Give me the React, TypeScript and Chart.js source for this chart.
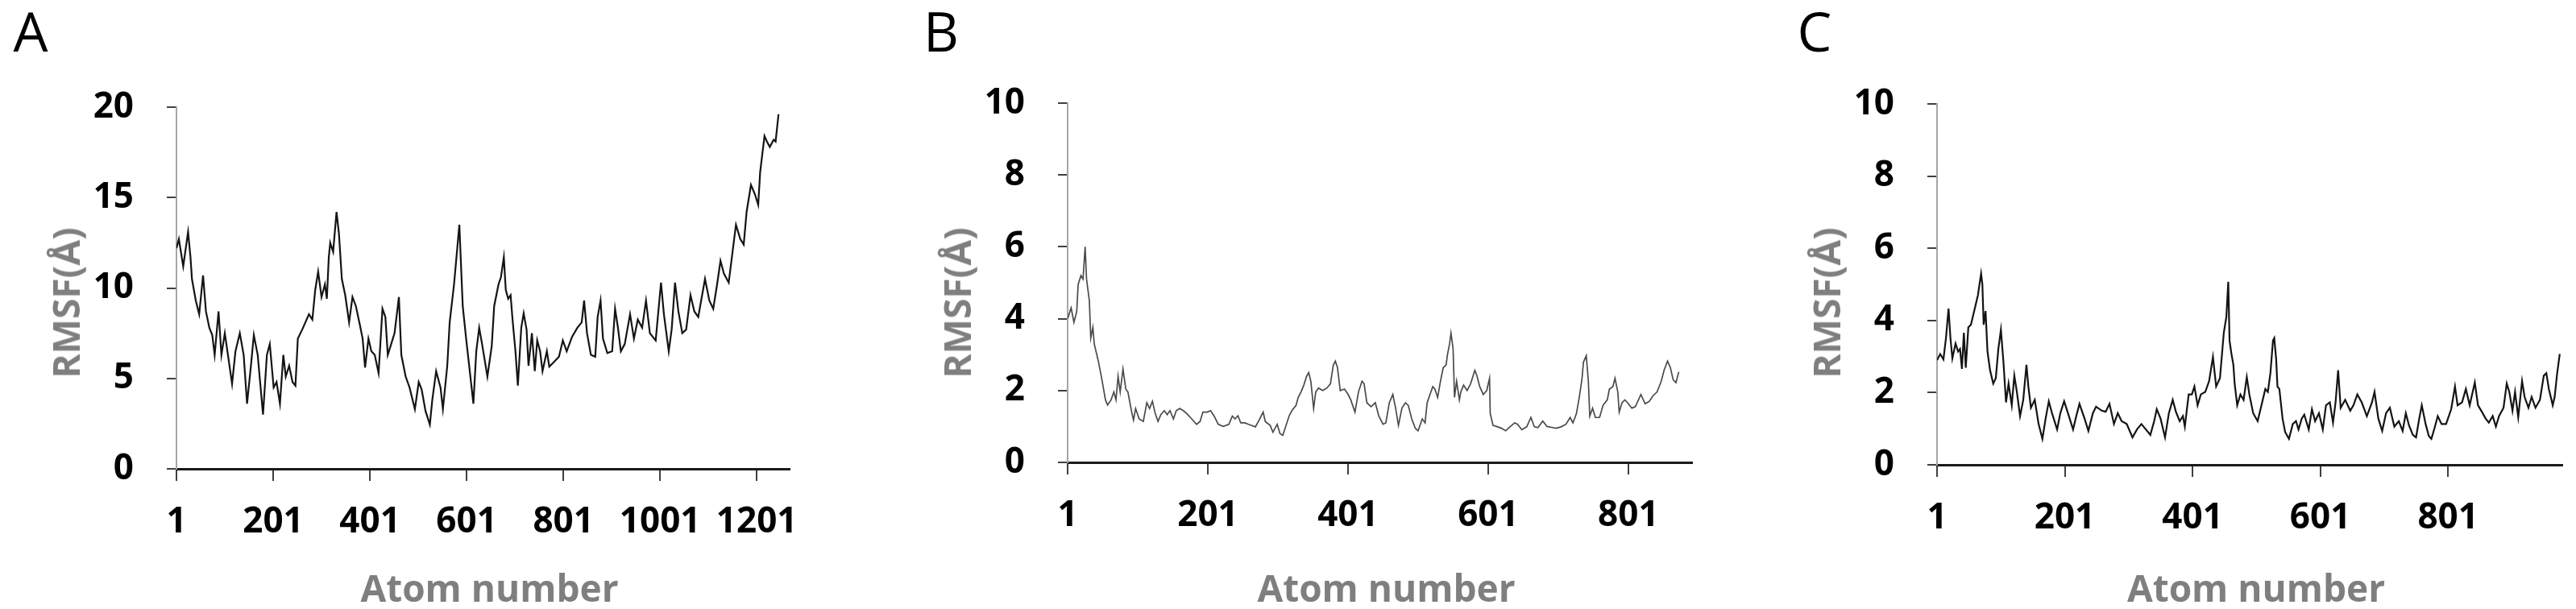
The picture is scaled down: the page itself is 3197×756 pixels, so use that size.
import React, { useEffect, useRef } from "react";
import { Chart, registerables } from "chart.js";

Chart.register(...registerables);

// ---------- data ----------
const ATOMS_A = [
  1, 6, 15, 25, 30, 33, 41, 48, 56, 62, 69, 75, 80, 88, 94, 101, 108, 116, 123, 132,
  140, 147, 155, 161, 169, 180, 188, 194, 202, 208, 215, 222, 227, 234, 241, 247, 252, 261, 266, 275,
  282, 288, 294, 301, 308, 312, 316, 319, 325, 332, 337, 343, 350, 358, 365, 372, 380, 386, 391, 398,
  404, 411, 419, 427, 433, 438, 445, 452, 461, 466, 475, 483, 494, 502, 508, 516, 525, 530, 538, 547,
  552, 561, 566, 575, 580, 586, 590, 593, 600, 608, 615, 621, 627, 633, 644, 653, 658, 667, 672, 678,
  682, 687, 692, 696, 702, 707, 714, 719, 725, 729, 736, 742, 747, 753, 758, 767, 772, 783, 792, 800,
  808, 819, 830, 839, 844, 850, 858, 867, 872, 878, 883, 892, 902, 908, 914, 920, 928, 939, 947, 955,
  964, 972, 980, 992, 1003, 1009, 1019, 1025, 1032, 1039, 1047, 1055, 1064, 1072, 1080, 1086, 1094, 1103, 1111, 1119,
  1126, 1133, 1143, 1150, 1158, 1167, 1174, 1180, 1189, 1197, 1204, 1208, 1217, 1222, 1228, 1236, 1240, 1246,
];
const RMSF_A = [
  12.2, 12.7, 11.2, 13.1, 11.7, 10.5, 9.3, 8.55, 10.7, 8.7, 7.8, 7.4, 6.3, 8.7, 6.3, 7.5, 6.2, 4.7, 6.5, 7.5,
  6.3, 3.6, 5.7, 7.4, 6.3, 3.0, 6.3, 6.9, 4.5, 4.8, 3.6, 6.3, 5.1, 5.7, 4.8, 4.6, 7.2, 7.7, 8.0, 8.55,
  8.25, 9.9, 10.9, 9.5, 10.2, 9.4, 11.7, 12.5, 12.0, 14.2, 13.0, 10.5, 9.6, 8.1, 9.5, 9.0, 8.0, 7.2, 5.6, 7.2,
  6.5, 6.3, 5.3, 8.85, 8.4, 6.3, 6.9, 7.5, 9.5, 6.3, 5.1, 4.5, 3.3, 4.8, 4.4, 3.2, 2.45, 3.8, 5.4, 4.5,
  3.3, 5.7, 8.1, 10.2, 11.7, 13.5, 10.9, 9.0, 7.2, 5.3, 3.6, 6.5, 7.8, 6.9, 5.1, 6.8, 9.0, 10.2, 10.6, 11.7,
  9.9, 9.4, 9.6, 8.25, 6.5, 4.6, 7.8, 8.6, 7.7, 5.7, 7.5, 5.4, 7.1, 6.5, 5.4, 6.5, 5.65, 5.95, 6.2, 7.1,
  6.5, 7.3, 7.8, 8.1, 9.3, 7.5, 6.3, 6.2, 8.4, 9.3, 7.2, 6.4, 6.5, 8.85, 7.8, 6.5, 6.9, 8.55, 7.2, 8.25,
  7.8, 9.3, 7.5, 7.1, 10.3, 8.55, 6.5, 7.7, 10.3, 8.7, 7.5, 7.7, 9.6, 8.7, 8.4, 9.3, 10.5, 9.3, 8.85, 10.2,
  11.5, 10.8, 10.3, 11.8, 13.5, 12.7, 12.4, 14.2, 15.7, 15.2, 14.6, 16.4, 18.4, 18.1, 17.8, 18.2, 18.1, 19.6,
];

const ATOMS_B = [
  1, 6, 10, 14, 16, 20, 23, 26, 28, 32, 34, 37, 39, 45, 49, 55, 58, 63, 67, 70,
  73, 76, 80, 84, 87, 92, 95, 98, 103, 109, 114, 118, 122, 126, 130, 134, 139, 143, 147, 152,
  156, 161, 166, 171, 178, 185, 190, 194, 200, 205, 210, 216, 223, 231, 236, 240, 244, 248, 254, 259,
  263, 269, 275, 280, 283, 290, 294, 300, 304, 308, 312, 317, 321, 327, 330, 334, 338, 342, 345, 348,
  352, 355, 359, 365, 371, 376, 380, 383, 386, 390, 396, 401, 405, 411, 416, 421, 424, 428, 434, 440,
  445, 451, 455, 460, 465, 469, 473, 478, 483, 487, 492, 497, 501, 507, 511, 514, 518, 522, 525, 529,
  533, 537, 541, 543, 546, 548, 551, 553, 556, 560, 562, 566, 571, 576, 582, 585, 589, 594, 599, 603,
  604, 608, 613, 620, 626, 632, 639, 643, 649, 656, 662, 667, 672, 679, 685, 693, 698, 705, 712, 718,
  722, 727, 731, 735, 737, 741, 744, 746, 750, 754, 760, 765, 771, 774, 779, 782, 786, 788, 792, 796,
  800, 806, 811, 819, 825, 831, 836, 842, 848, 852, 857, 861, 865, 869, 873,
];
const RMSF_B = [
  4.0, 4.3, 3.9, 4.2, 4.95, 5.2, 5.1, 6.0, 5.1, 4.5, 3.46, 3.76, 3.3, 2.8, 2.4, 1.74, 1.6, 1.74, 1.96, 1.74,
  2.4, 1.96, 2.6, 2.04, 1.96, 1.44, 1.18, 1.5, 1.21, 1.14, 1.66, 1.5, 1.7, 1.36, 1.14, 1.33, 1.44, 1.33, 1.44, 1.21,
  1.44, 1.5, 1.44, 1.36, 1.21, 1.06, 1.14, 1.4, 1.4, 1.44, 1.29, 1.06, 1.0, 1.06, 1.29, 1.21, 1.3, 1.1, 1.1, 1.06,
  1.03, 0.99, 1.21, 1.4, 1.14, 1.03, 0.84, 1.06, 0.8, 0.75, 0.99, 1.29, 1.44, 1.59, 1.81, 1.96, 2.15, 2.4, 2.5, 2.26,
  1.5, 1.96, 2.07, 2.0, 2.07, 2.19, 2.7, 2.82, 2.64, 2.0, 2.04, 1.9, 1.74, 1.4, 1.96, 2.26, 2.19, 1.66, 1.55, 1.66,
  1.29, 1.06, 1.1, 1.66, 1.89, 1.51, 1.03, 1.51, 1.66, 1.59, 1.21, 0.95, 0.88, 1.21, 1.1, 1.66, 1.89, 2.11, 2.04, 1.81,
  2.26, 2.64, 2.71, 3.0, 3.3, 3.6, 3.16, 1.81, 2.26, 1.74, 1.96, 2.15, 2.0, 2.19, 2.56, 2.41, 2.11, 1.89, 2.0, 2.34,
  1.36, 1.03, 1.0, 0.95, 0.88, 0.99, 1.1, 1.06, 0.91, 0.99, 1.25, 0.99, 0.97, 1.15, 1.0, 0.97, 0.95, 0.99, 1.06, 1.25,
  1.1, 1.36, 1.81, 2.34, 2.79, 2.97, 2.26, 1.29, 1.51, 1.25, 1.25, 1.59, 1.74, 2.04, 2.11, 2.34, 1.96, 1.4, 1.66, 1.74,
  1.66, 1.51, 1.55, 1.89, 1.63, 1.7, 1.85, 1.96, 2.26, 2.56, 2.82, 2.64, 2.3, 2.22, 2.52,
];

const ATOMS_C = [
  1, 6, 11, 15, 19, 22, 25, 30, 34, 37, 40, 43, 46, 50, 54, 57, 61, 65, 70, 72,
  74, 77, 80, 84, 89, 93, 97, 101, 105, 109, 113, 118, 122, 126, 131, 136, 141, 144, 148, 154,
  160, 166, 171, 176, 181, 189, 194, 200, 206, 214, 219, 224, 232, 238, 245, 250, 259, 265, 271, 278,
  284, 290, 298, 307, 314, 321, 328, 335, 341, 345, 351, 358, 364, 370, 375, 381, 386, 389, 395, 400,
  404, 409, 414, 421, 427, 433, 438, 444, 450, 454, 457, 459, 462, 465, 467, 471, 476, 481, 486, 490,
  496, 503, 509, 515, 519, 523, 527, 529, 532, 534, 537, 542, 546, 552, 558, 563, 567, 572, 576, 583,
  588, 593, 599, 605, 610, 616, 621, 625, 629, 633, 640, 648, 653, 659, 666, 674, 682, 686, 692, 698,
  704, 710, 717, 724, 730, 735, 740, 746, 751, 756, 760, 766, 771, 775, 780, 785, 791, 798, 806, 812,
  816, 823, 829, 835, 843, 848, 854, 860, 865, 871, 876, 881, 888, 893, 897, 902, 906, 911, 917, 921,
  927, 932, 938, 945, 951, 955, 959, 965, 968, 972, 976,
];
const RMSF_C = [
  2.9, 3.07, 2.92, 3.51, 4.33, 3.51, 2.95, 3.36, 3.14, 3.21, 2.66, 3.66, 2.69, 3.81, 3.88, 4.1, 4.4, 4.7, 5.3, 5.0,
  3.88, 4.26, 3.14, 2.62, 2.25, 2.4, 3.21, 3.74, 2.84, 1.73, 2.25, 1.65, 2.47, 2.02, 1.35, 1.8, 2.77, 2.17, 1.58, 1.8,
  1.13, 0.72, 1.28, 1.76, 1.43, 0.98, 1.43, 1.76, 1.43, 0.98, 1.35, 1.69, 1.28, 0.94, 1.43, 1.61, 1.5, 1.47, 1.69, 1.13,
  1.43, 1.21, 1.13, 0.76, 0.98, 1.13, 0.98, 0.83, 1.21, 1.54, 1.28, 0.76, 1.43, 1.8, 1.47, 1.21, 1.35, 1.06, 1.95, 1.95,
  2.17, 1.65, 1.95, 2.02, 2.32, 2.99, 2.17, 2.4, 3.66, 4.1, 5.07, 3.44, 3.07, 2.77, 2.25, 1.65, 1.95, 1.8, 2.43, 1.95,
  1.43, 1.21, 1.65, 2.1, 2.02, 2.54, 3.44, 3.51, 2.92, 2.17, 2.1, 1.28, 0.91, 0.72, 1.13, 1.21, 0.98, 1.28, 1.39, 0.98,
  1.54, 1.21, 1.43, 0.98, 1.65, 1.73, 1.17, 1.73, 2.62, 1.58, 1.8, 1.5, 1.65, 1.95, 1.73, 1.35, 1.73, 2.02, 1.28, 0.94,
  1.43, 1.58, 1.06, 1.21, 0.94, 1.43, 1.09, 0.83, 0.76, 1.28, 1.65, 1.13, 0.8, 0.72, 1.02, 1.35, 1.13, 1.13, 1.54, 2.17,
  1.65, 1.73, 2.1, 1.65, 2.28, 1.65, 1.47, 1.28, 1.17, 1.35, 1.06, 1.35, 1.58, 2.25, 2.02, 1.5, 2.02, 1.32, 2.32, 1.88,
  1.58, 1.88, 1.58, 1.8, 2.47, 2.54, 2.1, 1.65, 1.88, 2.54, 3.07,
];

const X_TICKS_A = [1, 201, 401, 601, 801, 1001, 1201];
const X_TICKS_BC = [1, 201, 401, 601, 801];
const Y_TICKS_A = [0, 5, 10, 15, 20];
const Y_TICKS_BC = [0, 2, 4, 6, 8, 10];
const X_MAX = [1269, 892, 980];
const Y_MAX = [20, 10, 10];
const PANEL_LABELS = ["A", "B", "C"];
const X_TITLE = "Atom number";
const Y_TITLE = "RMSF(Å)";

// ---------- layout / style ----------
const FONT = "'Open Sans', 'Noto Sans', sans-serif";
const PAGE_H = 756;
const TICK_FONT_SIZE = 44;
const TITLE_FONT_SIZE = 46;

type PanelGeom = {
  canvasLeft: number;
  canvasWidth: number;
  axisX: number; // page x of y axis
  plotTop: number;
  plotBottom: number;
  plotRight: number;
  lineColor: string;
  lineWidth: number;
  labelX: number;
};

const GEOMS: PanelGeom[] = [
  { canvasLeft: 0, canvasWidth: 1040, axisX: 219, plotTop: 133, plotBottom: 582, plotRight: 980, lineColor: "#141414", lineWidth: 2.2, labelX: 38 },
  { canvasLeft: 1040, canvasWidth: 1080, axisX: 1325, plotTop: 128, plotBottom: 574, plotRight: 2100, lineColor: "#4a4a4a", lineWidth: 1.7, labelX: 1168 },
  { canvasLeft: 2120, canvasWidth: 1077, axisX: 2404, plotTop: 129, plotBottom: 577, plotRight: 3180, lineColor: "#141414", lineWidth: 2.2, labelX: 2252 },
];

const SERIES = [
  { atoms: ATOMS_A, values: RMSF_A, xTicks: X_TICKS_A, yTicks: Y_TICKS_A },
  { atoms: ATOMS_B, values: RMSF_B, xTicks: X_TICKS_BC, yTicks: Y_TICKS_BC },
  { atoms: ATOMS_C, values: RMSF_C, xTicks: X_TICKS_BC, yTicks: Y_TICKS_BC },
];

function Panel({ idx }: { idx: number }) {
  const ref = useRef<HTMLCanvasElement | null>(null);
  const g = GEOMS[idx];
  const s = SERIES[idx];

  useEffect(() => {
    let chart: Chart | null = null;
    let cancelled = false;
    const make = () => {
      if (cancelled || !ref.current) return;
      const yW = g.axisX - g.canvasLeft;
      const xH = PAGE_H - g.plotBottom;
      const padRight = g.canvasLeft + g.canvasWidth - g.plotRight;
      chart = new Chart(ref.current, {
        type: "line",
        data: {
          datasets: [
            {
              data: s.atoms.map((a, i) => ({ x: a, y: s.values[i] })),
              borderColor: g.lineColor,
              borderWidth: g.lineWidth,
              pointRadius: 0,
              tension: 0,
              fill: false,
            },
          ],
        },
        options: {
          responsive: false,
          animation: false,
          events: [],
          layout: { padding: { top: g.plotTop, right: padRight, left: 0, bottom: 0 } },
          plugins: { legend: { display: false }, tooltip: { enabled: false }, title: { display: false } },
          scales: {
            x: {
              type: "linear",
              min: 1,
              max: X_MAX[idx],
              afterBuildTicks: (axis: any) => {
                axis.ticks = s.xTicks.map((v) => ({ value: v }));
              },
              afterFit: (axis: any) => {
                axis.height = xH;
              },
              grid: { display: true, drawOnChartArea: false, drawTicks: true, tickLength: 15, color: "#404040", lineWidth: 2 },
              border: { display: true, color: "#1a1a1a", width: 3 },
              ticks: {
                autoSkip: false,
                maxRotation: 0,
                minRotation: 0,
                padding: 25,
                color: "#000000",
                font: { family: FONT, size: TICK_FONT_SIZE, weight: "bold" },
                callback: (v: any) => String(v),
              },
            },
            y: {
              type: "linear",
              min: 0,
              max: Y_MAX[idx],
              afterBuildTicks: (axis: any) => {
                axis.ticks = s.yTicks.map((v) => ({ value: v }));
              },
              afterFit: (axis: any) => {
                axis.width = yW;
              },
              grid: { display: true, drawOnChartArea: false, drawTicks: true, tickLength: 12, color: "#404040", lineWidth: 2 },
              border: { display: true, color: "#a6a6a6", width: 2 },
              ticks: {
                padding: 41,
                color: "#000000",
                font: { family: FONT, size: TICK_FONT_SIZE, weight: "bold" },
                callback: (v: any) => String(v),
              },
            },
          },
        },
      } as any);
    };
    const fontsReady = (document as any).fonts?.load
      ? Promise.all([
          (document as any).fonts.load(`bold ${TICK_FONT_SIZE}px 'Open Sans'`),
          (document as any).fonts.load(`${TICK_FONT_SIZE}px 'Open Sans'`),
        ]).catch(() => null)
      : Promise.resolve(null);
    fontsReady.then(make);
    return () => {
      cancelled = true;
      if (chart) chart.destroy();
    };
  }, [idx]);

  const plotCenterX = (g.axisX + g.plotRight) / 2 + 8;
  return (
    <>
      <canvas
        ref={ref}
        width={g.canvasWidth}
        height={PAGE_H}
        style={{ position: "absolute", left: g.canvasLeft, top: 0, width: g.canvasWidth, height: PAGE_H, display: "block" }}
      />
      <div
        style={{
          position: "absolute",
          left: g.labelX,
          top: 38,
          transform: "translate(-50%, -50%)",
          fontFamily: FONT,
          fontSize: 68,
          lineHeight: "68px",
          fontWeight: 400,
          color: "#000",
          whiteSpace: "nowrap",
        }}
      >
        {PANEL_LABELS[idx]}
      </div>
      <div
        style={{
          position: "absolute",
          left: plotCenterX,
          top: 729,
          transform: "translate(-50%, -50%)",
          fontFamily: FONT,
          fontSize: TITLE_FONT_SIZE,
          lineHeight: `${TITLE_FONT_SIZE}px`,
          fontWeight: 700,
          color: "#7f7f7f",
          whiteSpace: "nowrap",
        }}
      >
        {X_TITLE}
      </div>
      <div
        style={{
          position: "absolute",
          left: g.axisX - 138,
          top: 376,
          transform: "translate(-50%, -50%) rotate(-90deg)",
          fontFamily: FONT,
          fontSize: TITLE_FONT_SIZE,
          lineHeight: `${TITLE_FONT_SIZE}px`,
          fontWeight: 700,
          color: "#7f7f7f",
          whiteSpace: "nowrap",
        }}
      >
        {Y_TITLE}
      </div>
    </>
  );
}

export default function App() {
  return (
    <div style={{ position: "absolute", left: 0, top: 0, width: 3197, height: PAGE_H, background: "#ffffff", overflow: "hidden" }}>
      <Panel idx={0} />
      <Panel idx={1} />
      <Panel idx={2} />
    </div>
  );
}
